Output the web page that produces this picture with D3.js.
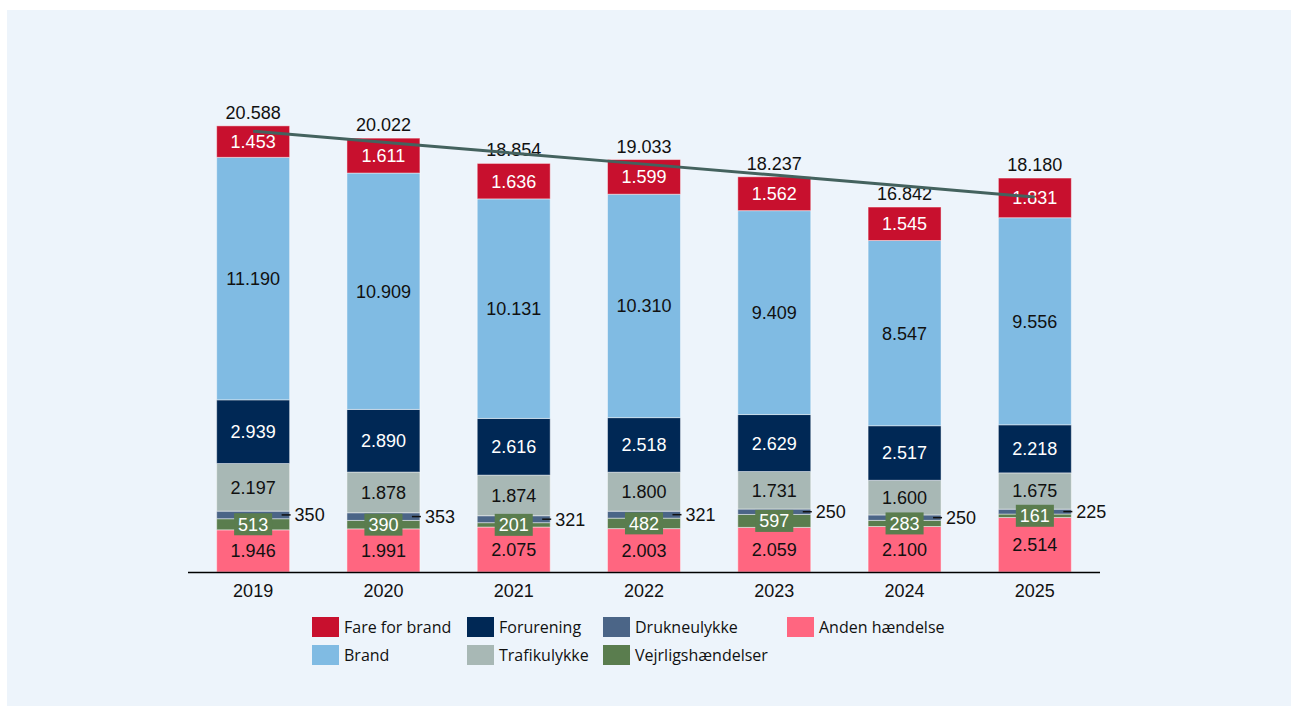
<!DOCTYPE html>
<html>
<head>
<meta charset="utf-8">
<script src="https://cdn.jsdelivr.net/npm/d3@7"></script>
<style>
  html, body { margin: 0; padding: 0; background: #ffffff; }
  svg { display: block; }
</style>
</head>
<body>
<div id="chart"></div>
<script>
// data
const years = ["2019", "2020", "2021", "2022", "2023", "2024", "2025"];
const andenHaendelse = [1946, 1991, 2075, 2003, 2059, 2100, 2514];
const vejrligshaendelser = [513, 390, 201, 482, 597, 283, 161];
const drukneulykke = [350, 353, 321, 321, 250, 250, 225];
const trafikulykke = [2197, 1878, 1874, 1800, 1731, 1600, 1675];
const forurening = [2939, 2890, 2616, 2518, 2629, 2517, 2218];
const brand = [11190, 10909, 10131, 10310, 9409, 8547, 9556];
const fareForBrand = [1453, 1611, 1636, 1599, 1562, 1545, 1831];

// stack order bottom -> top
const series = [
  {key: "Anden hændelse", values: andenHaendelse, color: "#ff6680", text: "#111"},
  {key: "Vejrligshændelser", values: vejrligshaendelser, color: "#5a7d4e", text: "#fff"},
  {key: "Drukneulykke", values: drukneulykke, color: "#4b6587", text: "#111"},
  {key: "Trafikulykke", values: trafikulykke, color: "#a8b8b5", text: "#111"},
  {key: "Forurening", values: forurening, color: "#002855", text: "#fff"},
  {key: "Brand", values: brand, color: "#80bbe3", text: "#111"},
  {key: "Fare for brand", values: fareForBrand, color: "#c8102e", text: "#fff"}
];

// legend order (row by row)
const legendOrder = ["Fare for brand", "Forurening", "Drukneulykke", "Anden hændelse",
                     "Brand", "Trafikulykke", "Vejrligshændelser"];

const W = 1291, H = 706;
const baseY = 572, axisLeft = 188, axisRight = 1100;

const loc = d3.formatLocale({decimal: ",", thousands: ".", grouping: [3], currency: ["", ""]});
const fmt = loc.format(",d");

const table = years.map((yr, i) => {
  const row = {year: yr};
  series.forEach(s => row[s.key] = s.values[i]);
  return row;
});
const totals = years.map((yr, i) => d3.sum(series, s => s.values[i]));

const svg = d3.select("#chart").append("svg")
  .attr("width", W).attr("height", H);

svg.append("rect")
  .attr("x", 7).attr("y", 10)
  .attr("width", W - 7).attr("height", H - 10)
  .attr("fill", "#edf4fb");

const x = d3.scaleBand()
  .domain(years)
  .range([axisLeft, axisRight])
  .paddingInner(0.44)
  .paddingOuter(0.22);

const y = d3.scaleLinear()
  .domain([0, 21000])
  .range([baseY, baseY - 21000 * 0.02167]);

const stack = d3.stack().keys(series.map(s => s.key));
const stacked = stack(table);
const colorOf = d3.scaleOrdinal().domain(series.map(s => s.key)).range(series.map(s => s.color));
const textOf = d3.scaleOrdinal().domain(series.map(s => s.key)).range(series.map(s => s.text));

const font = "'Liberation Sans', Arial, sans-serif";

// bars
const layers = svg.append("g").selectAll("g")
  .data(stacked)
  .join("g")
    .attr("fill", d => colorOf(d.key));

layers.selectAll("rect")
  .data(d => d.map(v => ({key: d.key, v: v})))
  .join("rect")
    .attr("x", d => x(d.v.data.year))
    .attr("width", x.bandwidth())
    .attr("y", d => y(d.v[1]))
    .attr("height", d => y(d.v[0]) - y(d.v[1]))
    .attr("stroke", "rgba(255,255,255,0.45)")
    .attr("stroke-width", 1);

// x axis
svg.append("line")
  .attr("x1", axisLeft).attr("x2", axisRight)
  .attr("y1", baseY + 0.5).attr("y2", baseY + 0.5)
  .attr("stroke", "#000").attr("stroke-width", 1.5);

svg.append("g").selectAll("text")
  .data(years)
  .join("text")
    .attr("x", d => x(d) + x.bandwidth() / 2)
    .attr("y", 597)
    .attr("text-anchor", "middle")
    .style("font-family", font)
    .style("font-size", "18px")
    .attr("fill", "#111")
    .text(d => d);

// segment labels
const labels = svg.append("g");
stacked.forEach(layer => {
  layer.forEach(v => {
    const yr = v.data.year;
    const cx = x(yr) + x.bandwidth() / 2;
    const cy = (y(v[0]) + y(v[1])) / 2;
    const val = v[1] - v[0];
    if (layer.key === "Drukneulykke") {
      const right = x(yr) + x.bandwidth();
      labels.append("line")
        .attr("x1", right - 8).attr("x2", right + 1)
        .attr("y1", cy).attr("y2", cy)
        .attr("stroke", "#111").attr("stroke-width", 1.5);
      labels.append("text")
        .attr("x", right + 5).attr("y", cy).attr("dy", "0.36em")
        .style("font-family", font).style("font-size", "18px")
        .attr("fill", "#111")
        .text(fmt(val));
      return;
    }
    if (layer.key === "Vejrligshændelser") {
      const t = labels.append("text")
        .attr("x", cx).attr("y", cy).attr("dy", "0.36em")
        .attr("text-anchor", "middle")
        .style("font-family", font).style("font-size", "18px")
        .attr("fill", "#fff")
        .text(fmt(val));
      const w = t.node().getComputedTextLength() + 8;
      labels.insert("rect", () => t.node())
        .attr("x", cx - w / 2).attr("y", cy - 11)
        .attr("width", w).attr("height", 22)
        .attr("fill", colorOf(layer.key));
      return;
    }
    labels.append("text")
      .attr("x", cx).attr("y", cy).attr("dy", "0.36em")
      .attr("text-anchor", "middle")
      .style("font-family", font).style("font-size", "18px")
      .attr("fill", textOf(layer.key))
      .text(fmt(val));
  });
});

// totals
svg.append("g").selectAll("text")
  .data(years)
  .join("text")
    .attr("x", d => x(d) + x.bandwidth() / 2)
    .attr("y", (d, i) => y(totals[i]) - 7)
    .attr("text-anchor", "middle")
    .style("font-family", font)
    .style("font-size", "18px")
    .attr("fill", "#111")
    .text((d, i) => fmt(totals[i]));

// linear trend of the totals
const idx = years.map((d, i) => i);
const mx = d3.mean(idx), my = d3.mean(totals);
const slope = d3.sum(idx, i => (i - mx) * (totals[i] - my)) / d3.sum(idx, i => (i - mx) * (i - mx));
const trend = idx.map(i => ({year: years[i], value: my + slope * (i - mx)}));

const line = d3.line()
  .x(d => x(d.year) + x.bandwidth() / 2)
  .y(d => y(d.value));

svg.append("path")
  .datum(trend)
  .attr("d", line)
  .attr("fill", "none")
  .attr("stroke", "#44625e")
  .attr("stroke-width", 3);

// legend
const legendCols = [312, 467, 603, 787];
const legendRows = [617, 645];
const legend = svg.append("g");
legendOrder.forEach((k, i) => {
  const col = i < 4 ? i : i - 4;
  const row = i < 4 ? 0 : 1;
  const gx = legendCols[col], gy = legendRows[row];
  legend.append("rect")
    .attr("x", gx).attr("y", gy)
    .attr("width", 27).attr("height", 20)
    .attr("fill", colorOf(k));
  legend.append("text")
    .attr("x", gx + 32).attr("y", gy + 10).attr("dy", "0.36em")
    .style("font-family", "'Open Sans', sans-serif")
    .style("font-size", "16px")
    .attr("fill", "#111")
    .text(k);
});
</script>
</body>
</html>
